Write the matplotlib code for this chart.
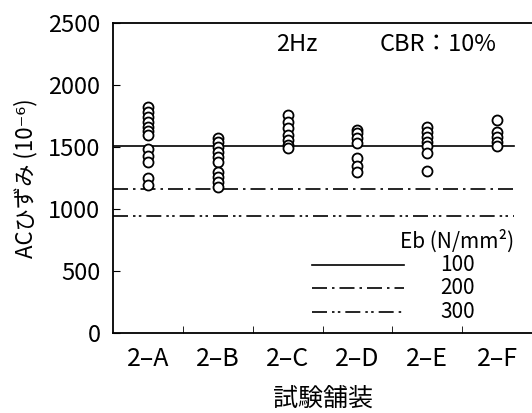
import matplotlib
matplotlib.use("Agg")
import matplotlib.pyplot as plt
from matplotlib import ticker

plt.rcParams['font.family'] = ['Liberation Sans Narrow', 'Noto Sans CJK JP', 'DejaVu Sans']

categories = ["2\u2013A", "2\u2013B", "2\u2013C", "2\u2013D", "2\u2013E", "2\u2013F"]
strain = [
    [1820, 1780, 1740, 1700, 1660, 1630, 1600, 1480, 1430, 1380, 1250, 1190],
    [1570, 1540, 1500, 1460, 1420, 1380, 1300, 1260, 1220, 1180],
    [1760, 1700, 1650, 1600, 1560, 1520, 1490],
    [1640, 1610, 1570, 1530, 1410, 1350, 1300],
    [1660, 1620, 1580, 1540, 1510, 1450, 1310],
    [1720, 1620, 1580, 1540, 1510],
]
eb_labels = ["100", "200", "300"]
eb_levels = [1510, 1160, 940]
eb_styles = ["-", (0, (9, 3, 1.5, 3)), (0, (9, 3, 1.5, 2, 1.5, 3))]

fig = plt.figure(figsize=(5.32, 4.13), dpi=100)
ax = fig.add_axes([113 / 532, 80 / 413, 419 / 532, 310 / 413])

for i, vals in enumerate(strain):
    ax.plot([i] * len(vals), vals, linestyle="", marker="o", markersize=7.2,
            markerfacecolor="white", markeredgecolor="black", markeredgewidth=1.3,
            zorder=3)

for lvl, ls in zip(eb_levels, eb_styles):
    ax.plot([-0.5, 5.24], [lvl, lvl], color="black", linestyle=ls, linewidth=1.2, zorder=2)

ax.set_xlim(-0.5, 5.5)
ax.set_ylim(0, 2500)
ax.set_xticks(range(len(categories)))
ax.set_xticklabels(categories, fontsize=18)
ax.xaxis.set_minor_locator(ticker.FixedLocator([0.5, 1.5, 2.5, 3.5, 4.5]))
ax.tick_params(axis="x", which="major", length=0, pad=9)
ax.tick_params(axis="x", which="minor", direction="in", length=5)
ax.yaxis.set_major_locator(ticker.MultipleLocator(500))
ax.tick_params(axis="y", direction="in", length=5, labelsize=17, pad=9)
ax.spines["right"].set_visible(False)
for s in ["left", "bottom", "top"]:
    ax.spines[s].set_linewidth(1.3)

ax.set_ylabel("ACひずみ (10⁻⁶)", fontsize=16, labelpad=8)
ax.set_xlabel("試験舗装", fontsize=18, labelpad=10)

ax.text(0.438, 0.93, "2Hz", transform=ax.transAxes, fontsize=17, ha="center", va="center")
ax.text(0.636, 0.93, "CBR：10%", transform=ax.transAxes, fontsize=17, ha="left", va="center")

# legend
ax.text(0.82, 0.295, "Eb (N/mm²)", transform=ax.transAxes, fontsize=15, ha="center", va="center")
leg_y = [0.219, 0.145, 0.068]
for y, ls, lab in zip(leg_y, eb_styles, eb_labels):
    ax.plot([0.474, 0.695], [y, y], transform=ax.transAxes, color="black",
            linestyle=ls, linewidth=1.2)
    ax.text(0.822, y, lab, transform=ax.transAxes, fontsize=15, ha="center", va="center")

fig.savefig("out.png", dpi=100)
